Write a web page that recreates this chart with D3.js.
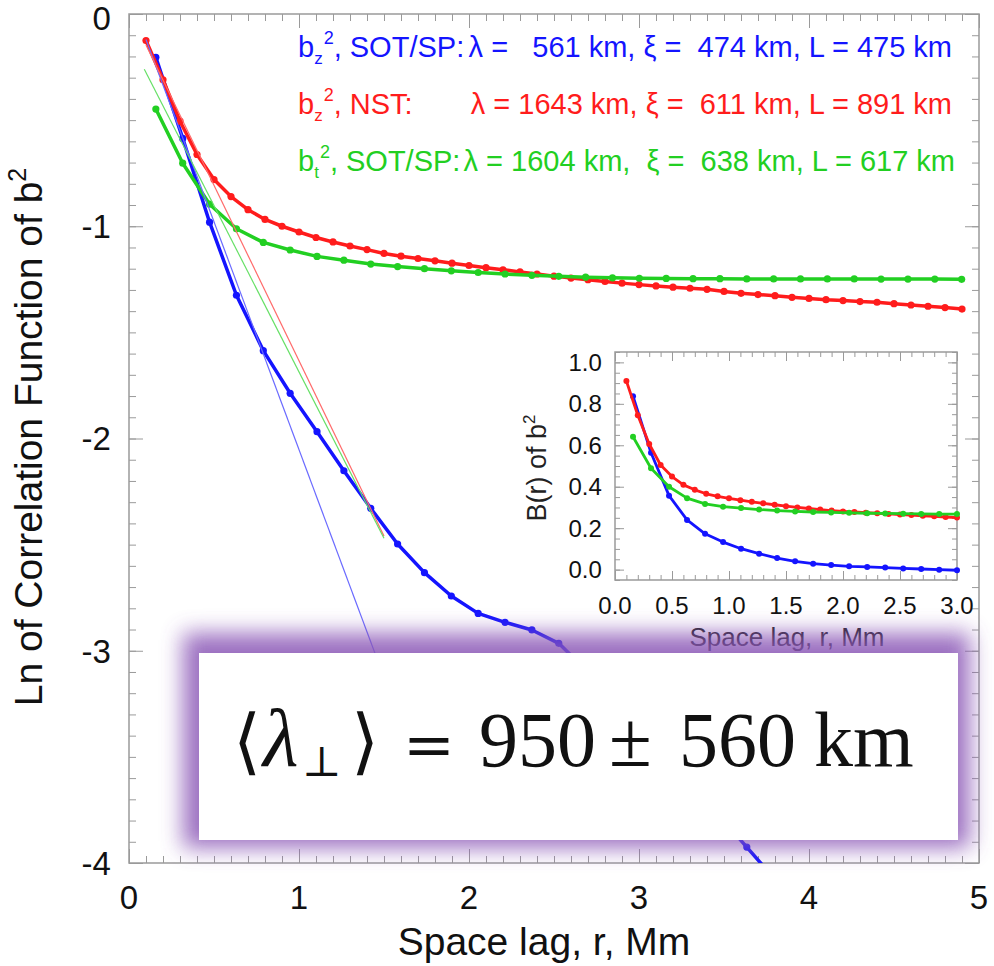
<!DOCTYPE html>
<html>
<head>
<meta charset="utf-8">
<script src="https://cdn.jsdelivr.net/npm/d3@7"></script>
<style>
  body { margin: 0; background: #fff; }
  svg { display: block; }
  text { font-family: "Liberation Sans", Arial, Helvetica, sans-serif; }
</style>
</head>
<body>
<svg id="chart" width="994" height="966"></svg>
<script>
// main panel: ln of correlation function vs space lag (Mm)
const rNst = [0.1,0.2,0.3,0.4,0.5,0.6,0.7,0.8,0.9,1.0,1.1,1.2,1.3,1.4,1.5,1.6,1.7,1.8,1.9,2.0,
  2.1,2.2,2.3,2.4,2.5,2.6,2.7,2.8,2.9,3.0,3.1,3.2,3.3,3.4,3.5,3.6,3.7,3.8,3.9,4.0,
  4.1,4.2,4.3,4.4,4.5,4.6,4.7,4.8,4.9]
const lnRed = [-0.125,-0.31,-0.505,-0.662,-0.78,-0.86,-0.922,-0.968,-1.0,-1.027,-1.053,-1.074,-1.093,-1.11,-1.128,-1.141,-1.152,-1.163,-1.174,-1.185,
  -1.195,-1.205,-1.215,-1.225,-1.235,-1.244,-1.252,-1.26,-1.268,-1.275,-1.281,-1.287,-1.292,-1.297,-1.307,-1.316,-1.322,-1.327,-1.335,-1.34,
  -1.346,-1.35,-1.355,-1.358,-1.365,-1.371,-1.377,-1.383,-1.39]

const rSot = [0.158,0.316,0.474,0.632,0.79,0.948,1.106,1.264,1.422,1.58,1.738,1.896,2.054,2.212,2.37,2.528,
  2.686,2.844,3.002,3.16,3.318,3.476,3.634,3.792,3.95,4.108,4.266,4.424,4.582,4.74,4.898]
const lnBlue = [-0.204,-0.586,-0.981,-1.325,-1.586,-1.787,-1.968,-2.152,-2.329,-2.497,-2.632,-2.742,-2.824,-2.866,-2.902,-2.965,
  -3.09,-3.22,-3.36,-3.5,-3.64,-3.78,-3.925,-4.07]
const lnGreen = [-0.448,-0.703,-0.896,-1.012,-1.076,-1.112,-1.142,-1.16,-1.178,-1.19,-1.2,-1.21,-1.218,-1.225,-1.231,-1.236,
  -1.24,-1.243,-1.245,-1.246,-1.247,-1.247,-1.248,-1.248,-1.248,-1.248,-1.248,-1.249,-1.249,-1.249,-1.25]

// straight-line fits (start and end point)
const fitBlue = [[0.1, -0.12], [1.8, -3.77]]
const fitRed = [[0.1, -0.146], [1.5, -2.46]]
const fitGreen = [[0.09, -0.26], [1.5, -2.47]]

// inset: B(r)
const rNstIn = [0.1,0.2,0.3,0.4,0.5,0.6,0.7,0.8,0.9,1.0,1.1,1.2,1.3,1.4,1.5,1.6,1.7,1.8,1.9,2.0,
  2.1,2.2,2.3,2.4,2.5,2.6,2.7,2.8,2.9,3.0]
const bRed = [0.91,0.745,0.606,0.505,0.449,0.409,0.385,0.366,0.354,0.344,0.335,0.327,0.32,0.313,0.306,0.3,0.295,0.29,0.285,0.281,
  0.278,0.275,0.272,0.269,0.266,0.263,0.26,0.257,0.254,0.251]
const rSotIn = [0.158,0.316,0.474,0.632,0.79,0.948,1.106,1.264,1.422,1.58,1.738,1.896,2.054,2.212,2.37,2.528,2.686,2.844,3.0]
const bBlue = [0.837,0.564,0.357,0.24,0.173,0.133,0.101,0.077,0.056,0.04,0.029,0.022,0.016,0.013,0.01,0.006,0.003,0.0,-0.003]
const bGreen = [0.641,0.489,0.40,0.345,0.317,0.304,0.297,0.29,0.285,0.281,0.278,0.276,0.274,0.272,0.271,0.27,0.269,0.268,0.268]

const mainTicksX = [0,1,2,3,4,5]
const mainTicksY = [0,-1,-2,-3,-4]
const insetTicksX = [0,0.5,1,1.5,2,2.5,3]
const insetTicksY = [0,0.2,0.4,0.6,0.8,1.0]

const legendSub = ["z", "z", "t"]
const legendName = [", SOT/SP:", ", NST:", ", SOT/SP:"]
const legendStats = ["λ =   561 km, ξ =  474 km, L = 475 km",
                     "λ = 1643 km, ξ =  611 km, L = 891 km",
                     "λ = 1604 km,  ξ =  638 km, L = 617 km"]

const colors = {blue: "#1414ff", red: "#ff1c1c", green: "#22cf22"}
const fitColors = {blue: "#6a6aff", red: "#ff6a6a", green: "#66e066"}
const legendColors = [colors.blue, colors.red, colors.green]

const svg = d3.select("#chart")
const x = d3.scaleLinear().domain([0, 5]).range([129, 979])
const y = d3.scaleLinear().domain([-4, 0]).range([863, 14])

const frameColor = "#9a9a9a"

function drawFrame(g, xs, ys, majorX, majorY, minorStepX, minorStepY, fmtX, fmtY, big, small, fontSize) {
    const [x0, x1] = xs.range()
    const [y0, y1] = ys.range()
    const minorX = d3.range(Math.ceil(xs.domain()[0] / minorStepX), Math.floor(xs.domain()[1] / minorStepX) + 1).map(i => +(i * minorStepX).toFixed(3))
    const minorY = d3.range(Math.ceil(ys.domain()[0] / minorStepY), Math.floor(ys.domain()[1] / minorStepY) + 1).map(i => +(i * minorStepY).toFixed(3))
    const axes = [
        [d3.axisBottom(xs), `translate(0,${y0})`, minorX, majorX],
        [d3.axisTop(xs), `translate(0,${y1})`, minorX, majorX],
        [d3.axisLeft(ys), `translate(${x0},0)`, minorY, majorY],
        [d3.axisRight(ys), `translate(${x1},0)`, minorY, majorY]
    ]
    axes.forEach(([ax, tr, minor, major]) => {
        g.append("g").attr("transform", tr)
            .call(ax.tickValues(minor).tickSize(-small).tickSizeOuter(0).tickFormat(""))
            .call(s => s.select(".domain").remove())
            .selectAll("line").attr("stroke", frameColor)
        g.append("g").attr("transform", tr)
            .call(ax.tickValues(major).tickSize(-big).tickSizeOuter(0).tickFormat(""))
            .call(s => s.select(".domain").remove())
            .selectAll("line").attr("stroke", frameColor)
    })
    g.append("rect")
        .attr("x", x0).attr("y", y1)
        .attr("width", x1 - x0).attr("height", y0 - y1)
        .attr("fill", "none").attr("stroke", frameColor).attr("stroke-width", 1.5)

    g.append("g").selectAll("text").data(majorX).join("text")
        .attr("x", d => xs(d)).attr("y", y0 + fontSize * 1.4)
        .attr("text-anchor", "middle")
        .style("font-size", fontSize + "px").attr("fill", "#111")
        .text(fmtX)
    g.append("g").selectAll("text").data(majorY).join("text")
        .attr("x", x0 - fontSize * 0.55).attr("y", d => Math.max(ys(d), y1 + 4))
        .attr("dy", "0.36em")
        .attr("text-anchor", "end")
        .style("font-size", fontSize + "px").attr("fill", "#111")
        .text(fmtY)
}

function drawSeries(g, xs, ys, rs, vs, color, width, radius) {
    const pts = vs.map((v, i) => [rs[i], v])
    g.append("path")
        .datum(pts)
        .attr("fill", "none")
        .attr("stroke", color)
        .attr("stroke-width", width)
        .attr("stroke-linejoin", "round")
        .attr("d", d3.line().x(d => xs(d[0])).y(d => ys(d[1])))
    g.append("g").selectAll("circle").data(pts).join("circle")
        .attr("cx", d => xs(d[0])).attr("cy", d => ys(d[1]))
        .attr("r", radius).attr("fill", color)
}

// ---- main panel
svg.append("defs").append("clipPath").attr("id", "mainClip")
    .append("rect").attr("x", 129).attr("y", 14).attr("width", 850).attr("height", 849)

const main = svg.append("g")
drawFrame(main, x, y, mainTicksX, mainTicksY, 0.1, 0.1, d => d, d => String(d), 14, 7, 33)

const plot = main.append("g").attr("clip-path", "url(#mainClip)")
drawSeries(plot, x, y, rSot, lnBlue, colors.blue, 3.5, 3.6)
drawSeries(plot, x, y, rNst, lnRed, colors.red, 3.5, 3.6)
drawSeries(plot, x, y, rSot, lnGreen, colors.green, 3.5, 3.6)

const fitLine = d3.line().x(d => x(d[0])).y(d => y(d[1]))
;[[fitBlue, fitColors.blue], [fitRed, fitColors.red], [fitGreen, fitColors.green]].forEach(([f, c]) => {
    plot.append("path").attr("d", fitLine(f))
        .attr("stroke", c).attr("stroke-width", 1.2).attr("fill", "none")
})

main.append("text")
    .attr("x", 544).attr("y", 955)
    .attr("text-anchor", "middle")
    .style("font-size", "39px").attr("fill", "#111")
    .text("Space lag, r, Mm")

const yTitle = main.append("text")
    .attr("transform", "translate(42,437) rotate(-90)")
    .attr("text-anchor", "middle")
    .style("font-size", "39px").attr("fill", "#111")
yTitle.append("tspan").text("Ln of Correlation Function of b")
yTitle.append("tspan").attr("dy", -16).style("font-size", "25px").text("2")

// legend
const legend = main.append("g")
legendStats.forEach((s, i) => {
    const base = 57 + i * 57
    const t = legend.append("text").attr("x", 298).attr("y", base)
        .attr("fill", legendColors[i]).style("font-size", "29px")
    t.append("tspan").text("b")
    t.append("tspan").attr("dy", 7).style("font-size", "17px").text(legendSub[i])
    t.append("tspan").attr("dy", -20).attr("dx", 1).style("font-size", "18px").text("2")
    t.append("tspan").attr("dy", 13).text(legendName[i])
    legend.append("text").attr("x", i === 2 ? 955 : 952).attr("y", base)
        .attr("text-anchor", "end")
        .attr("fill", legendColors[i]).style("font-size", "29px")
        .style("white-space", "pre")
        .text(s)
})

// ---- inset
const xi = d3.scaleLinear().domain([0, 3]).range([615, 957])
const yi = d3.scaleLinear().domain([-0.05, 1.05]).range([580, 352])
const inset = svg.append("g")
inset.append("rect").attr("x", 615).attr("y", 352).attr("width", 342).attr("height", 228).attr("fill", "#fff")
drawFrame(inset, xi, yi, insetTicksX, insetTicksY, 0.1, 0.05, d3.format(".1f"), d3.format(".1f"), 9, 5, 24)
drawSeries(inset, xi, yi, rSotIn, bBlue, colors.blue, 2.8, 3)
drawSeries(inset, xi, yi, rNstIn, bRed, colors.red, 2.8, 3)
drawSeries(inset, xi, yi, rSotIn, bGreen, colors.green, 2.8, 3)

inset.append("text")
    .attr("x", 787).attr("y", 646)
    .attr("text-anchor", "middle")
    .style("font-size", "26px").attr("fill", "#222")
    .text("Space lag, r, Mm")
const yiTitle = inset.append("text")
    .attr("transform", "translate(546,468) rotate(-90)")
    .attr("text-anchor", "middle")
    .style("font-size", "27px").attr("fill", "#222")
yiTitle.append("tspan").text("B(r) of b")
yiTitle.append("tspan").attr("dy", -11).style("font-size", "17px").text("2")

// ---- result box with purple glow
const glow = svg.select("defs").append("filter").attr("id", "glow")
    .attr("x", "-20%").attr("y", "-40%").attr("width", "140%").attr("height", "180%")
glow.append("feGaussianBlur").attr("stdDeviation", 11)

const box = {x: 199, y: 653, w: 759, h: 187}
svg.append("rect")
    .attr("x", box.x - 16).attr("y", box.y - 20)
    .attr("width", box.w + 28).attr("height", box.h + 28)
    .attr("fill", "#8a56b6").attr("opacity", 0.85)
    .attr("filter", "url(#glow)")
svg.append("rect")
    .attr("x", box.x).attr("y", box.y).attr("width", box.w).attr("height", box.h)
    .attr("fill", "#fff")

const formula = svg.append("text")
    .attr("y", 766)
    .style("font-family", "'Liberation Serif', 'Times New Roman', serif")
    .style("font-size", "78px").attr("fill", "#111")
formula.append("tspan").attr("x", 233).style("font-family", "'DejaVu Serif', serif").style("font-size", "72px").text("⟨")
formula.append("tspan").attr("x", 263).style("font-style", "italic").style("font-size", "82px").text("λ")
formula.append("tspan").attr("x", 302).attr("dy", 10).style("font-family", "'DejaVu Serif', serif").style("font-size", "42px").text("⊥")
formula.append("tspan").attr("x", 351).attr("dy", -10).style("font-family", "'DejaVu Serif', serif").style("font-size", "72px").text("⟩")
formula.append("tspan").attr("x", 403).style("font-family", "'DejaVu Serif', serif").style("font-size", "62px").text("=")
formula.append("tspan").attr("x", 479).text("950")
formula.append("tspan").attr("x", 609).text("±")
formula.append("tspan").attr("x", 679).text("560")
formula.append("tspan").attr("x", 814).text("km")
</script>
</body>
</html>
